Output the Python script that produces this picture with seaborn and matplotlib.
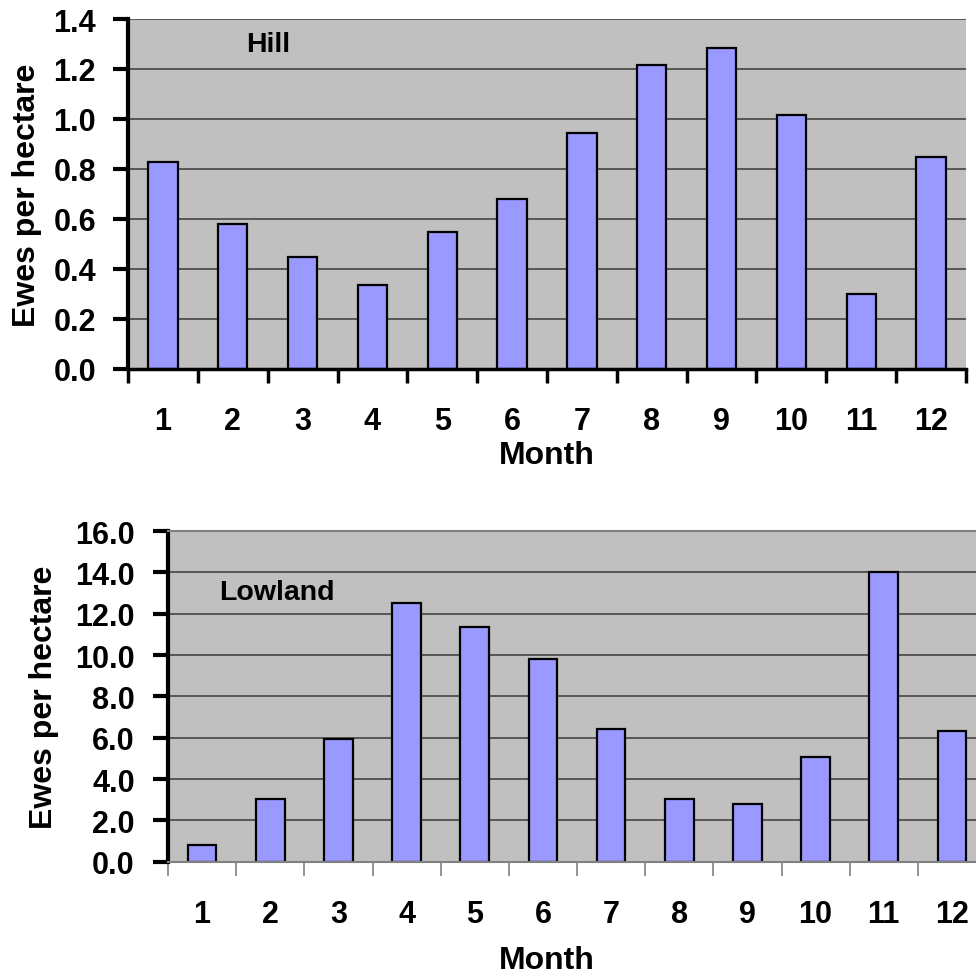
import matplotlib
matplotlib.use("Agg")
import matplotlib.pyplot as plt
import seaborn as sns
import pandas as pd
from matplotlib.ticker import FormatStrFormatter, FixedLocator, MultipleLocator

months = ["1", "2", "3", "4", "5", "6", "7", "8", "9", "10", "11", "12"]
hill = [0.83, 0.58, 0.45, 0.335, 0.55, 0.68, 0.945, 1.215, 1.285, 1.015, 0.30, 0.85]
lowland = [0.82, 3.05, 5.95, 12.5, 11.35, 9.8, 6.42, 3.05, 2.8, 5.08, 14.0, 6.34]

sns.set_theme(style="white")
plt.rcParams["font.family"] = ["Liberation Sans", "DejaVu Sans"]
plt.rcParams["font.weight"] = "bold"
plt.rcParams["text.color"] = "black"
plt.rcParams["axes.labelcolor"] = "black"
plt.rcParams["xtick.labelcolor"] = "black"
plt.rcParams["ytick.labelcolor"] = "black"

BG = "#C0C0C0"
BAR = "#9999FF"
GRID = "#3A3A3A"
FS = 22
FS_L = 23
FS_T = 20.5

fig = plt.figure(figsize=(9.76, 9.78), dpi=100)
ax1 = fig.add_axes([128/976, (978-370)/978, 838/976, 350/978])
ax2 = fig.add_axes([168/976, (978-862.7)/978, 818/976, 330.7/978])

df1 = pd.DataFrame({"Month": months, "Value": hill})
df2 = pd.DataFrame({"Month": months, "Value": lowland})

def style(ax, df, ymax, ystep, label, lpos, ylab_x, mlab, dark_bottom, ypad, xpad):
    sns.barplot(data=df, x="Month", y="Value", ax=ax, color=BAR, width=0.42,
                edgecolor="black", linewidth=1.6, saturation=1)
    ax.set_facecolor(BG)
    ax.set_xlim(-0.5, 11.5)
    ax.set_ylim(0, ymax)
    ax.yaxis.set_major_locator(MultipleLocator(ystep))
    ax.yaxis.set_major_formatter(FormatStrFormatter("%.1f"))
    ax.set_axisbelow(True)
    ax.yaxis.grid(True, color=GRID, linewidth=1.1)
    ax.xaxis.grid(False)
    ax.spines["right"].set_visible(False)
    ax.spines["left"].set_color("black")
    ax.spines["left"].set_linewidth(3)
    if dark_bottom:
        ax.spines["bottom"].set_color("black")
        ax.spines["bottom"].set_linewidth(2.5)
        ax.spines["top"].set_visible(False)
        tcol, tw = "black", 2.5
    else:
        ax.spines["bottom"].set_color("#808080")
        ax.spines["bottom"].set_linewidth(1.5)
        ax.spines["top"].set_color("#808080")
        ax.spines["top"].set_linewidth(1.5)
        tcol, tw = "#808080", 1.2
    ax.tick_params(axis="y", which="major", direction="out", length=11, width=3,
                   color="black", labelsize=FS, pad=ypad, left=True,
                   labelcolor="black")
    ax.xaxis.set_minor_locator(FixedLocator([i - 0.5 for i in range(13)]))
    ax.tick_params(axis="x", which="minor", direction="out", length=10, width=tw,
                   color=tcol, bottom=True)
    ax.tick_params(axis="x", which="major", length=0, labelsize=FS, pad=xpad,
                   labelcolor="black")
    for t in ax.get_xticklabels() + ax.get_yticklabels():
        t.set_fontweight("bold")
    ax.set_ylabel("Ewes per hectare", fontsize=FS_L, fontweight="bold", color="black")
    ax.yaxis.set_label_coords(ylab_x, 0.5)
    ax.yaxis.label.set_va("center")
    ax.set_xlabel("Month", fontsize=FS_L, fontweight="bold", color="black")
    ax.xaxis.label.set_va("center")
    ax.xaxis.set_label_coords(mlab[0], mlab[1])
    ax.text(lpos[0], lpos[1], label, transform=ax.transAxes, fontsize=FS_T,
            fontweight="bold", ha="center", va="center", color="black")

style(ax1, df1, 1.4, 0.2, "Hill", (0.167, 0.929), -0.121, (0.5, -0.245), True, 12, 27)
style(ax2, df2, 16, 2, "Lowland", (0.133, 0.8155), -0.151, (0.463, -0.296), False, 13, 27)

fig.savefig("out.png", dpi=100, facecolor="white")
